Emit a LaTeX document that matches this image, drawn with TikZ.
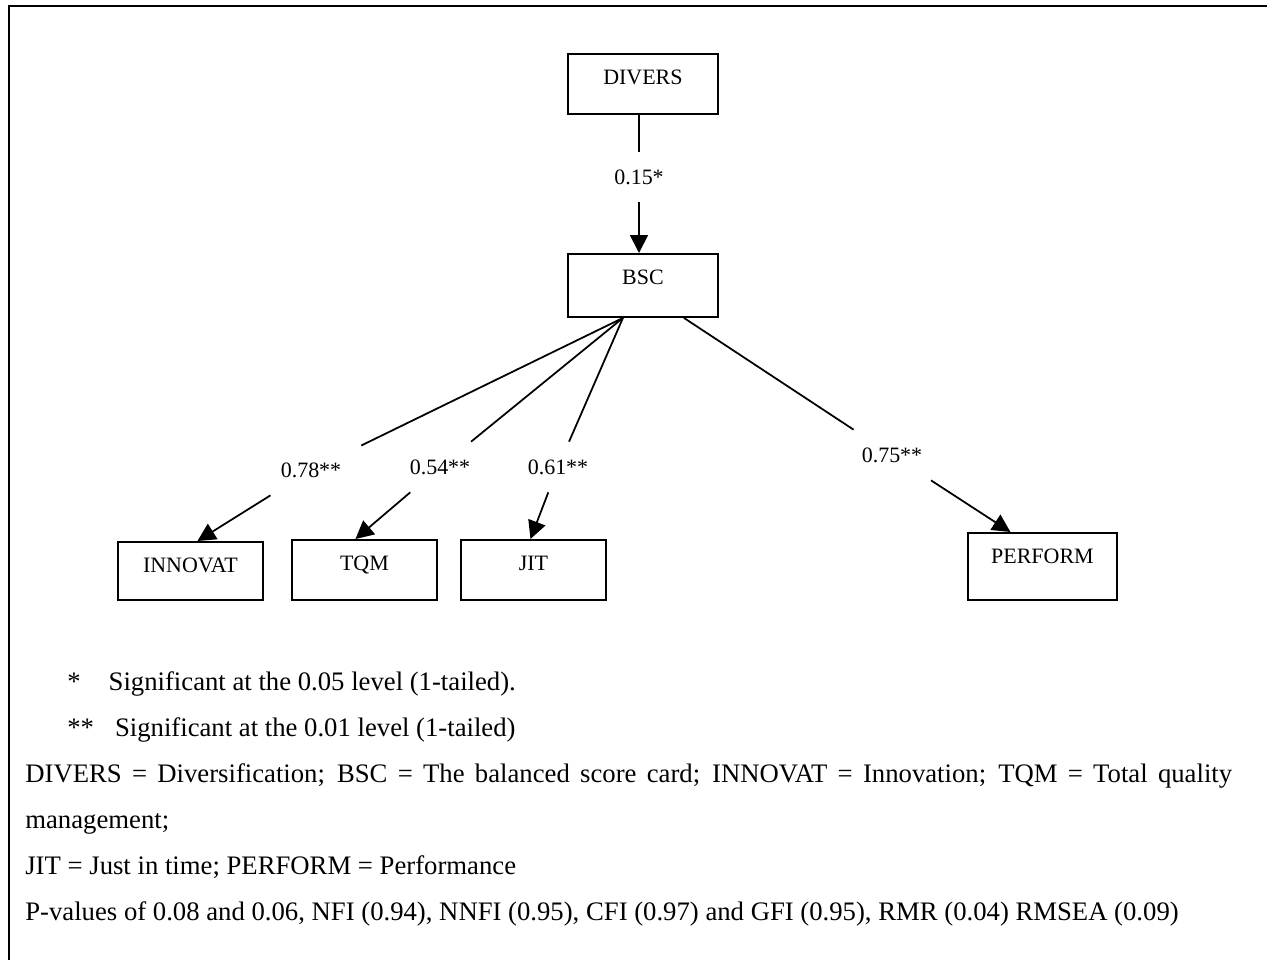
\documentclass[tikz,border=0pt]{standalone}
\usepackage{fontspec}
\setmainfont{Liberation Serif}
\usetikzlibrary{arrows.meta}

\begin{document}
\begin{tikzpicture}[x=0.02cm, y=-0.02cm,
  varbox/.style={draw, line width=1.1pt, inner sep=0pt, anchor=north west,
    minimum width=3cm, text height=0.62cm, text depth=#1,
    font=\fontsize{12.5}{14}\selectfont},
  coef/.style={minimum width=2cm, minimum height=1cm, inner sep=0pt,
    font=\fontsize{12.5}{14}\selectfont},
  link/.style={line width=1pt},
  arr/.style={link, -{Triangle[length=0.36cm,width=0.36cm]}},
  note/.style={anchor=base west, inner sep=0pt,
    font=\fontsize{15.2}{18}\selectfont}]
\useasboundingbox (0,0) rectangle (1267,960);
\draw [line width=1.3pt] (9,960) -- (9,6) -- (1267,6);
\node [varbox=0.58cm]
       (divers) at (567,53) {DIVERS};
\node [varbox=0.64cm]
       (bsc) at (567,253) {BSC};
\node [varbox=0.54cm, minimum width=2.9cm]
       (innovat) at (117,541) {INNOVAT};
\node [varbox=0.58cm, minimum width=2.9cm]
       (tqm) at (291,539) {TQM};
\node [varbox=0.58cm, minimum width=2.9cm]
       (jit) at (460,539) {JIT};
\node [varbox=0.72cm, minimum width=2.98cm]
       (perform) at (967,532) {PERFORM};
\node [coef] (l15) at (639,177) {0.15*};
\node [coef] (l78) at (311,470) {0.78**};
\node [coef] (l54) at (440,467) {0.54**};
\node [coef] (l61) at (558,467) {0.61**};
\node [coef] (l75) at (892,455) {0.75**};
\coordinate (bscleft) at ([xshift=-0.4cm]bsc.south);
\coordinate (bscright) at ([xshift=0.82cm]bsc.south);
\draw [link] (divers.south -| l15) -- (l15);
\draw [arr] (l15) -- (bsc.north -| l15);
\draw [link] (bscleft) -- (l78);
\draw [arr] (l78) -- ([xshift=0.14cm]innovat.north);
\draw [link] (bscleft) -- (l54);
\draw [arr] (l54) -- ([xshift=-0.18cm]tqm.north);
\draw [link] (bscleft) -- (l61);
\draw [arr] (l61) -- ([xshift=-0.06cm]jit.north);
\draw [link] (bscright) -- (l75);
\draw [arr] (l75) -- ([xshift=-0.64cm]perform.north);
\node [note] (sig1) at (67,690)
       {*\hspace{0.56cm}Significant at the 0.05 level (1-tailed).};
\node [note] (sig2) at (67,736)
       {**\hspace{0.42cm}Significant at the 0.01 level (1-tailed)};
\node [note] (abbr1) at (25,782)
       {\makebox[24.14cm][s]{DIVERS = Diversification; BSC = The balanced score card; INNOVAT = Innovation; TQM = Total quality}};
\node [note] (abbr2) at (25,828) {management;};
\node [note] (abbr3) at (25,874) {JIT = Just in time; PERFORM = Performance};
\node [note] (fit) at (25,920)
       {P-values of 0.08 and 0.06, NFI (0.94), NNFI (0.95), CFI (0.97) and GFI (0.95), RMR (0.04) RMSEA (0.09)};
\end{tikzpicture}
\end{document}
